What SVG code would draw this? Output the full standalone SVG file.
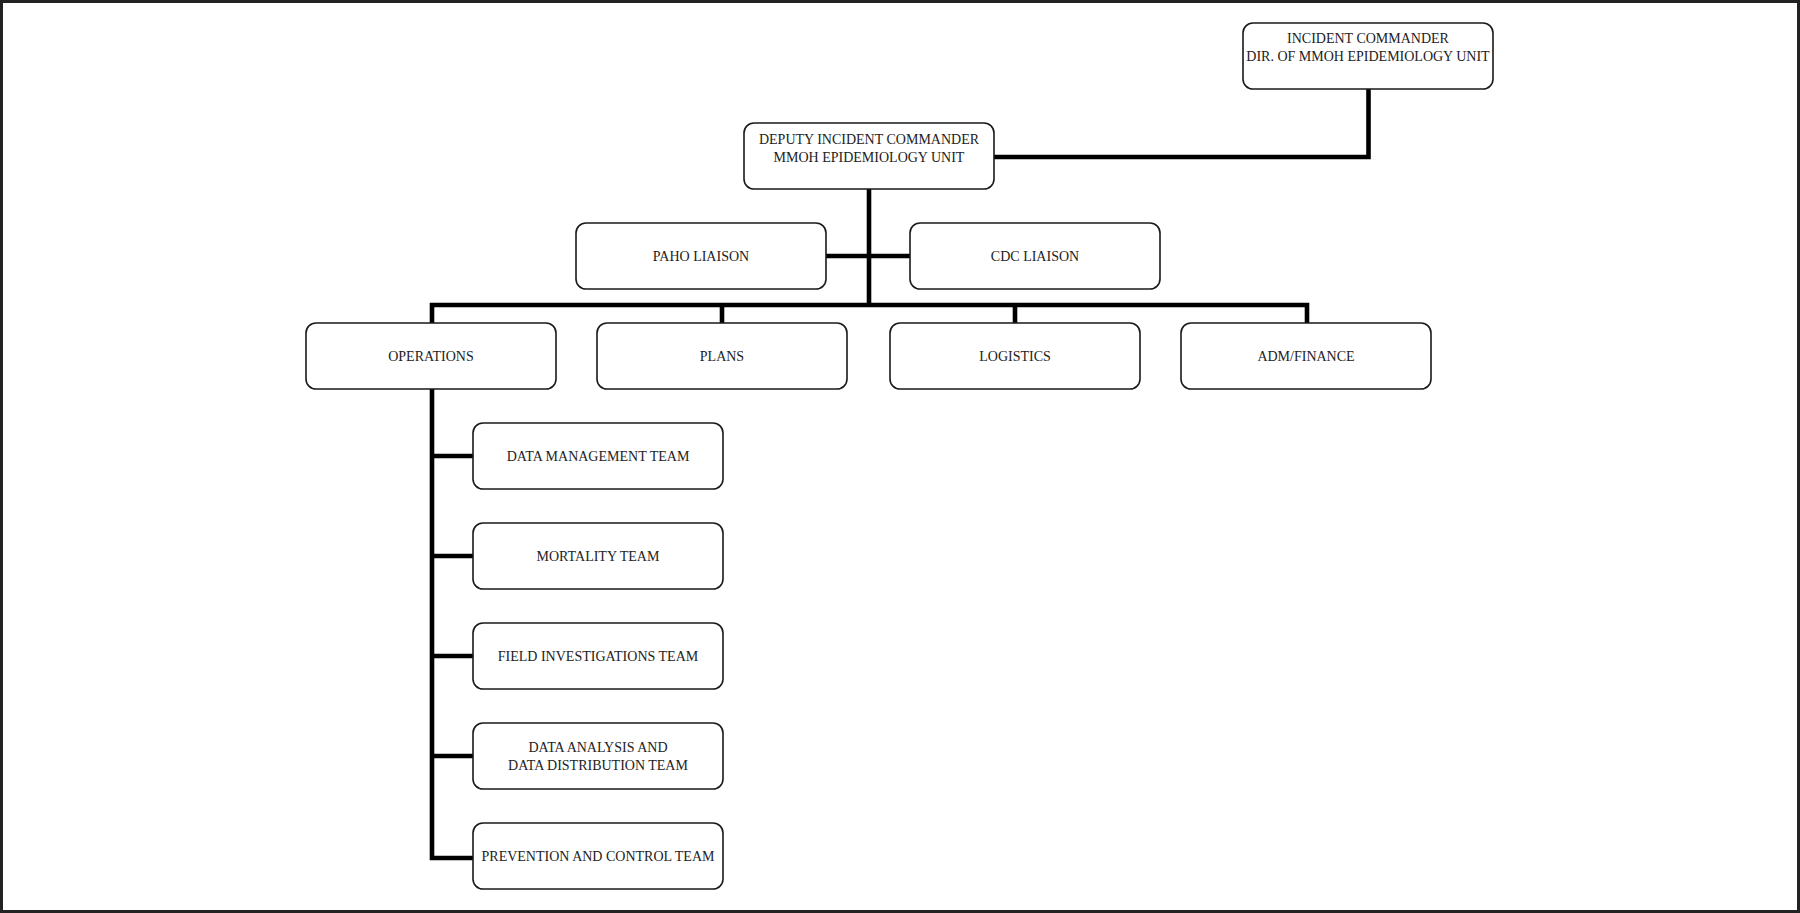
<svg xmlns="http://www.w3.org/2000/svg" width="1800" height="913" viewBox="0 0 1800 913">
<style>
.box{fill:#fff;stroke:#1a1a1a;stroke-width:1.6}
.t{font-family:"Liberation Serif","Times New Roman",serif;font-size:14px;fill:#222;text-anchor:middle}
.c{fill:none;stroke:#000;stroke-width:4.6;stroke-linejoin:miter;stroke-linecap:butt}
</style>
<rect x="0" y="0" width="1800" height="913" fill="#fff"/>
<rect x="1.5" y="1.5" width="1797" height="910" fill="none" stroke="#222" stroke-width="3"/>
<g id="connectors">
<path class="c" d="M1368.5 89 V157 H994"/>
<path class="c" d="M869 189 V305"/>
<path class="c" d="M826 256 H910"/>
<path class="c" d="M432 325 V305 H1307 V323"/>
<path class="c" d="M722 305 V323"/>
<path class="c" d="M1015 305 V323"/>
<path class="c" d="M432 389 V858 H473"/>
<path class="c" d="M432 456 H473"/>
<path class="c" d="M432 556 H473"/>
<path class="c" d="M432 656 H473"/>
<path class="c" d="M432 756 H473"/>
</g>
<g id="incident-commander">
<rect class="box" x="1243" y="23" width="250" height="66" rx="10"/>
<text class="t" x="1368" y="43">INCIDENT COMMANDER</text>
<text class="t" x="1368" y="61">DIR. OF MMOH EPIDEMIOLOGY UNIT</text>
</g>
<g id="deputy">
<rect class="box" x="744" y="123" width="250" height="66" rx="10"/>
<text class="t" x="869" y="144">DEPUTY INCIDENT COMMANDER</text>
<text class="t" x="869" y="162">MMOH EPIDEMIOLOGY UNIT</text>
</g>
<g id="paho">
<rect class="box" x="576" y="223" width="250" height="66" rx="10"/>
<text class="t" x="701" y="261">PAHO LIAISON</text>
</g>
<g id="cdc">
<rect class="box" x="910" y="223" width="250" height="66" rx="10"/>
<text class="t" x="1035" y="261">CDC LIAISON</text>
</g>
<g id="operations">
<rect class="box" x="306" y="323" width="250" height="66" rx="10"/>
<text class="t" x="431" y="361">OPERATIONS</text>
</g>
<g id="plans">
<rect class="box" x="597" y="323" width="250" height="66" rx="10"/>
<text class="t" x="722" y="361">PLANS</text>
</g>
<g id="logistics">
<rect class="box" x="890" y="323" width="250" height="66" rx="10"/>
<text class="t" x="1015" y="361">LOGISTICS</text>
</g>
<g id="adm-finance">
<rect class="box" x="1181" y="323" width="250" height="66" rx="10"/>
<text class="t" x="1306" y="361">ADM/FINANCE</text>
</g>
<g id="data-management">
<rect class="box" x="473" y="423" width="250" height="66" rx="10"/>
<text class="t" x="598" y="461">DATA MANAGEMENT TEAM</text>
</g>
<g id="mortality">
<rect class="box" x="473" y="523" width="250" height="66" rx="10"/>
<text class="t" x="598" y="561">MORTALITY TEAM</text>
</g>
<g id="field-investigations">
<rect class="box" x="473" y="623" width="250" height="66" rx="10"/>
<text class="t" x="598" y="661">FIELD INVESTIGATIONS TEAM</text>
</g>
<g id="data-analysis">
<rect class="box" x="473" y="723" width="250" height="66" rx="10"/>
<text class="t" x="598" y="752">DATA ANALYSIS AND</text>
<text class="t" x="598" y="770">DATA DISTRIBUTION TEAM</text>
</g>
<g id="prevention-control">
<rect class="box" x="473" y="823" width="250" height="66" rx="10"/>
<text class="t" x="598" y="861">PREVENTION AND CONTROL TEAM</text>
</g>
</svg>
